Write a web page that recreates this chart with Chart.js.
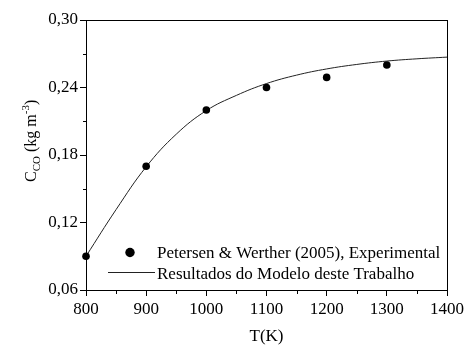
<!DOCTYPE html>
<html>
<head>
<meta charset="utf-8">
<script src="https://cdn.jsdelivr.net/npm/chart.js@4/dist/chart.umd.min.js"></script>
<style>
  html, body { margin: 0; padding: 0; background: #fff; }
  #wrap { width: 467px; height: 345px; }
</style>
</head>
<body>
<div id="wrap"><canvas id="c" width="467" height="345"></canvas></div>
<script>
// Experimental CO concentration (Petersen & Werther, 2005)
const expTemps = [800, 900, 1000, 1100, 1200, 1300];
const expValues = [0.090, 0.170, 0.220, 0.240, 0.249, 0.260];

// Model prediction
const modelTemps = [800, 850, 900, 950, 1000, 1050, 1100, 1150, 1200, 1250, 1300, 1350, 1400];
const modelValues = [0.090, 0.1315, 0.1695, 0.1985, 0.2195, 0.233, 0.2435, 0.251, 0.2565, 0.2605, 0.2635, 0.2655, 0.267];

// Axis ranges and tick spacing
const xRange = [800, 1400];
const xMajorStep = 100;
const xMinorStep = 50;
const yRange = [0.06, 0.30];
const yMajorStep = 0.06;
const yMinorStep = 0.03;

const legendLabels = ['Petersen & Werther (2005), Experimental', 'Resultados do Modelo deste Trabalho'];
const xTitle = 'T(K)';

const FONT = '"Liberation Serif", "Times New Roman", serif';

function isMajor(v, step) {
  const r = v / step;
  return Math.abs(r - Math.round(r)) < 1e-6;
}

// Frame, minor ticks, legend and axis titles
const decorations = {
  id: 'decorations',
  afterDraw(chart) {
    const ctx = chart.ctx;
    const a = chart.chartArea;
    const xs = chart.scales.x, ys = chart.scales.y;
    ctx.save();
    ctx.strokeStyle = '#000';
    ctx.lineWidth = 1;
    ctx.strokeRect(Math.round(a.left) + 0.5, Math.round(a.top) + 0.5,
                   Math.round(a.right - a.left), Math.round(a.bottom - a.top));

    // minor ticks
    ctx.beginPath();
    for (let v = xRange[0]; v <= xRange[1] + 1e-9; v += xMinorStep) {
      if (isMajor(v - xRange[0], xMajorStep)) continue;
      const px = Math.round(xs.getPixelForValue(v)) + 0.5;
      ctx.moveTo(px, Math.round(a.bottom) + 0.5);
      ctx.lineTo(px, Math.round(a.bottom) + 4);
    }
    for (let k = 0; ; k++) {
      const v = yRange[0] + k * yMinorStep;
      if (v > yRange[1] + 1e-9) break;
      if (k % 2 === 0) continue;
      const py = Math.round(ys.getPixelForValue(v)) + 0.5;
      ctx.moveTo(Math.round(a.left) + 0.5, py);
      ctx.lineTo(Math.round(a.left) - 3, py);
    }
    ctx.stroke();

    // legend
    ctx.fillStyle = '#000';
    ctx.beginPath();
    ctx.arc(130, 252.5, 4.7, 0, Math.PI * 2);
    ctx.fill();
    ctx.strokeStyle = '#222';
    ctx.lineWidth = 1;
    ctx.beginPath();
    ctx.moveTo(108, 272.5);
    ctx.lineTo(155, 272.5);
    ctx.stroke();
    ctx.font = '17px ' + FONT;
    ctx.textBaseline = 'alphabetic';
    ctx.textAlign = 'left';
    ctx.fillText(legendLabels[0], 157, 258);
    ctx.fillText(legendLabels[1], 157, 279);

    // x title
    ctx.textAlign = 'center';
    ctx.fillText(xTitle, (a.left + a.right) / 2, 341);

    // y title: C_CO (kg m^-3)
    ctx.translate(36, 182);
    ctx.rotate(-Math.PI / 2);
    ctx.textAlign = 'left';
    let x = 0;
    const parts = [
      { t: 'C', size: 16, dy: 0 },
      { t: 'CO', size: 11, dy: 4 },
      { t: ' (kg m', size: 16, dy: 0 },
      { t: '-3', size: 11, dy: -7 },
      { t: ')', size: 16, dy: 0 }
    ];
    for (const p of parts) {
      ctx.font = p.size + 'px ' + FONT;
      ctx.fillText(p.t, x, p.dy);
      x += ctx.measureText(p.t).width;
    }
    ctx.restore();
  }
};

new Chart(document.getElementById('c'), {
  type: 'scatter',
  data: {
    datasets: [
      {
        label: legendLabels[0],
        data: expTemps.map((t, i) => ({ x: t, y: expValues[i] })),
        pointRadius: 3.8,
        pointBackgroundColor: '#000',
        pointBorderColor: '#000',
        pointBorderWidth: 0,
        showLine: false,
        clip: false,
        order: 0
      },
      {
        label: legendLabels[1],
        data: modelTemps.map((t, i) => ({ x: t, y: modelValues[i] })),
        showLine: true,
        pointRadius: 0,
        borderColor: '#222',
        borderWidth: 1,
        tension: 0.4,
        order: 1
      }
    ]
  },
  options: {
    responsive: false,
    animation: false,
    devicePixelRatio: 1,
    layout: { padding: { left: 0, top: 20, right: 19, bottom: 0 } },
    plugins: { legend: { display: false }, tooltip: { enabled: false } },
    scales: {
      x: {
        type: 'linear',
        min: xRange[0],
        max: xRange[1],
        afterFit(s) { s.height = 55; },
        ticks: {
          stepSize: xMinorStep,
          autoSkip: false,
          maxRotation: 0,
          padding: 3,
          color: '#000',
          font: { family: FONT, size: 17 },
          callback(v) { return isMajor(v - xRange[0], xMajorStep) ? String(v) : ''; }
        },
        grid: {
          drawOnChartArea: false,
          tickLength: 6,
          tickColor: (c) => (c.tick && isMajor(c.tick.value - xRange[0], xMajorStep)) ? '#000' : 'rgba(0,0,0,0)'
        },
        border: { display: true, color: '#000', width: 1 }
      },
      y: {
        type: 'linear',
        min: yRange[0],
        max: yRange[1],
        afterFit(s) { s.width = 86; },
        ticks: {
          stepSize: yMinorStep,
          autoSkip: false,
          padding: 2,
          color: '#000',
          font: { family: FONT, size: 17 },
          callback(v) {
            return isMajor(v - yRange[0], yMajorStep) ? v.toFixed(2).replace('.', ',') : '';
          }
        },
        grid: {
          drawOnChartArea: false,
          tickLength: 6,
          tickColor: (c) => (c.tick && isMajor(c.tick.value - yRange[0], yMajorStep)) ? '#000' : 'rgba(0,0,0,0)'
        },
        border: { display: true, color: '#000', width: 1 }
      }
    }
  },
  plugins: [decorations]
});
</script>
</body>
</html>
